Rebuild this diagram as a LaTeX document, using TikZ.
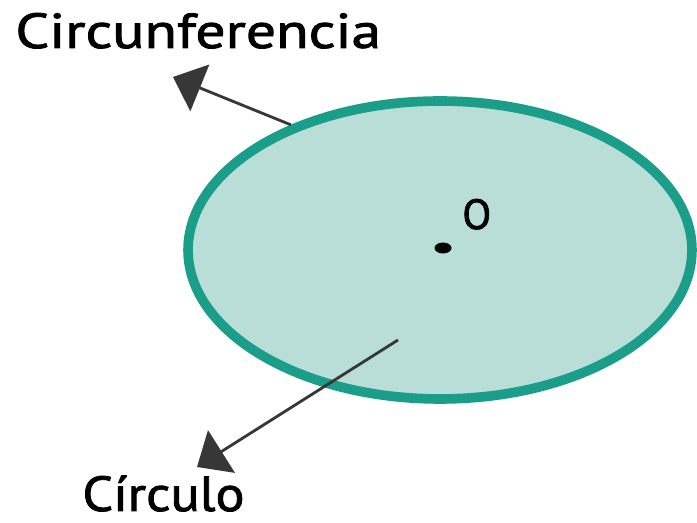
\documentclass[tikz,border=0pt]{standalone}
\usepackage{fontspec}
\setmainfont{PT Sans}
\newfontfamily\lblfont{PT Sans}[FakeBold=1.6]
\usetikzlibrary{arrows.meta, shapes.geometric, positioning}
\definecolor{tealring}{RGB}{26,158,138}
\definecolor{tealfill}{RGB}{184,222,215}
\definecolor{arrgray}{RGB}{55,55,55}
\tikzset{
  ringnode/.style={ellipse,draw=tealring,fill=tealfill,line width=5.5pt,minimum width=10.08cm,minimum height=5.96cm,inner sep=0pt},
  lbl/.style={inner sep=0pt,font=\lblfont\fontsize{28}{32}\selectfont,text=black},
  ptr/.style={-{Triangle[length=0.58cm,width=1.0cm]},line width=1.6pt,color=arrgray},
  dotmark/.style={ellipse,fill=black,minimum width=0.34cm,minimum height=0.22cm,inner sep=0pt}
}

\begin{document}
\begin{tikzpicture}[x=0.02cm,y=-0.02cm]
  \useasboundingbox (0,0) rectangle (697,523);
  \node[ringnode] (circ) at (440,250) {};
  \node[dotmark] (ctr) at (443,248) {};
  \node[lbl,font=\lblfont\fontsize{24}{28}\selectfont,anchor=base west] (olbl) at (462,229) {O};
  \node[lbl,anchor=base west] (lblcirc) at (15,48) {\scalebox{1.21}[1]{Circunferencia}};
  \node[lbl,anchor=base west] (lblcirculo) at (82,511) {\scalebox{1.1}[1]{Círculo}};

  \coordinate (tipA) at (173,77);
  \coordinate (tipB) at (197,467);
  \coordinate (inner) at (398,340);
  \draw[ptr] (circ.140) -- (tipA);
  \draw[ptr] (inner) -- (tipB);
\end{tikzpicture}
\end{document}
